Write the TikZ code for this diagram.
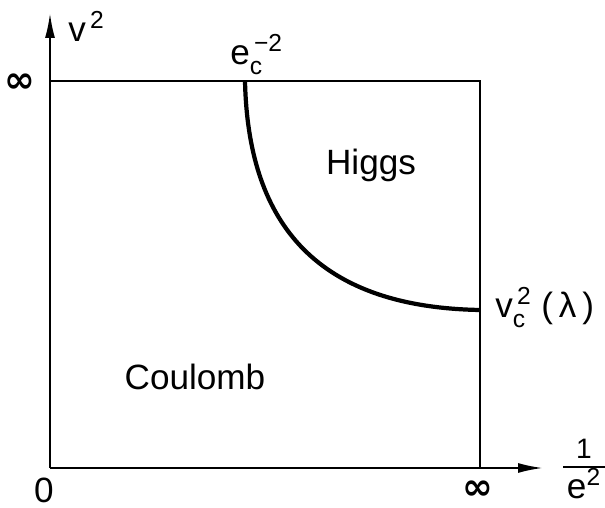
\documentclass[tikz,border=0pt]{standalone}
\usepackage{fontspec}
\usepackage{amsmath}
\setmainfont{Liberation Sans}
\newfontfamily\symfont{DejaVu Sans}
\usetikzlibrary{positioning, arrows.meta}

\begin{document}
\begin{tikzpicture}[
x=0.02cm, y=0.02cm,
font=\fontsize{20}{24}\selectfont,
axis/.style={-{Latex[length=0.5cm, width=0.2cm]}, line width=1.2pt},
border/.style={line width=1.2pt},
phase/.style={line width=2.4pt},
lbl/.style={inner sep=0pt},
inf/.style={inner sep=0pt, font=\symfont\bfseries\fontsize{21}{24}\selectfont}
]
\useasboundingbox (0,0) rectangle (605,507);

% Esquinas
\coordinate (origin) at (50,39);
\coordinate (ytip) at (50,494);
\coordinate (xtip) at (543,39);
\coordinate (topleft) at (50,426);
\coordinate (topright) at (480,426);
\coordinate (bottomright) at (480,39);
\coordinate (ecrit) at (245,426);
\coordinate (vcrit) at (480,197);

% Ejes
\draw[axis] (origin) -- (ytip);
\draw[axis] (origin) -- (xtip);

% Borde
\draw[border] (topleft) -- (topright) -- (bottomright);

% Linea de fase
\draw[phase] (ecrit) .. controls (248,290) and (310,200) .. (vcrit);

% Etiquetas
\node[lbl, anchor=base west] (vlabel) at (68,465) {v$^{\,\text{2}}$};
\node[inf] (inftop) at (20,424) {∞};
\node[lbl, anchor=base west] (eclabel) at (230,442) {e$_{\text{c}}^{\,\text{−2}}$};
\node[lbl, anchor=base] (higgs) at (371,332) {Higgs};
\node[lbl, anchor=base] (coulomb) at (195,117) {Coulomb};
\node[lbl, anchor=base west] (vclabel) at (495,189) {v$_{\text{c}}^{\,\text{2}}$\;(\,λ\,)};
\node[lbl] (zero) at (44,17) {0};
\node[inf] (infright) at (478,17) {∞};
\node[lbl, anchor=north] (xlabel) at (584,68) {\setlength{\arrayrulewidth}{1.2pt}%
\renewcommand{\arraystretch}{0}%
\begin{tabular}{@{\hspace{2pt}}c@{\hspace{2pt}}}
\fontsize{16}{18}\selectfont 1\rule[-4pt]{0pt}{12pt}\\ \hline
\rule[-1pt]{0pt}{16pt}e$^{\text{2}}$
\end{tabular}};

\end{tikzpicture}
\end{document}
